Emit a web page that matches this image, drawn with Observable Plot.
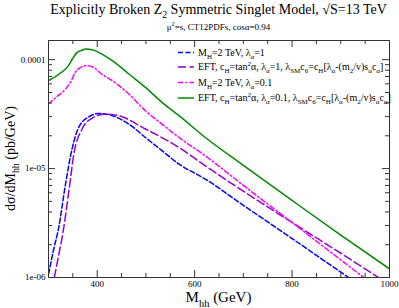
<!DOCTYPE html>
<html><head><meta charset="utf-8">
<script src="https://cdn.jsdelivr.net/npm/d3@7"></script>
<script src="https://cdn.jsdelivr.net/npm/@observablehq/plot@0.6"></script>
<style>body{margin:0;background:#fff}#c{width:399px;height:308px}</style>
</head><body><div id="c"></div>
<script>
// ---- data ----
const blueM = [300, 310, 321, 335, 349, 362, 383, 403, 424, 465, 499, 533, 568, 622, 700, 800, 900, 1000];
const blueV = [1.07e-6, 1.76e-6, 2.88e-6, 7.21e-6, 1.56e-5, 2.39e-5, 2.99e-5, 3.21e-5, 3.13e-5, 2.56e-5, 1.93e-5, 1.46e-5, 1.10e-5, 8.0e-6, 4.6e-6, 2.28e-6, 1.12e-6, 5.5e-7];
const purpleM = [312, 320, 328, 342, 352, 369, 390, 417, 444, 499, 568, 622, 700, 800, 900, 1000];
const purpleV = [1.0e-6, 1.53e-6, 2.33e-6, 6.27e-6, 1.36e-5, 2.31e-5, 2.91e-5, 3.17e-5, 3.06e-5, 2.31e-5, 1.56e-5, 1.06e-5, 6.2e-6, 3.2e-6, 1.67e-6, 8.6e-7];
const magentaM = [300, 314, 335, 345, 355, 366, 376, 390, 410, 431, 465, 499, 533, 568, 622, 700, 800, 900, 950, 1000];
const magentaV = [3.92e-5, 4.45e-5, 5.38e-5, 6.18e-5, 7.64e-5, 8.49e-5, 8.81e-5, 8.6e-5, 7.33e-5, 6.41e-5, 4.84e-5, 3.4e-5, 2.56e-5, 1.93e-5, 1.31e-5, 7.0e-6, 3.2e-6, 1.45e-6, 9.8e-7, 6.8e-7];
const greenM = [300, 321, 341, 349, 359, 367, 376, 390, 403, 431, 465, 499, 533, 568, 622, 700, 800, 900, 1000];
const greenV = [6.41e-5, 7.35e-5, 8.81e-5, 1.014e-4, 1.167e-4, 1.21e-4, 1.253e-4, 1.236e-4, 1.167e-4, 9.8e-5, 7.39e-5, 5.57e-5, 4.06e-5, 3.06e-5, 1.93e-5, 1.07e-5, 5.1e-6, 2.45e-6, 1.2e-6];

const xMajor = [400, 600, 800, 1000];
const xTickLabels = ["400", "600", "800", "1000"];
const xMinor = [350, 450, 500, 550, 650, 700, 750, 850, 900, 950];
const yMajor = [1e-6, 1e-5, 1e-4];
const yTickLabels = ["1e-06", "1e-05", "0.0001"];
const yMinor = [2e-6,3e-6,4e-6,5e-6,6e-6,7e-6,8e-6,9e-6,2e-5,3e-5,4e-5,5e-5,6e-5,7e-5,8e-5,9e-5];

const seriesNames = ["blue", "purple", "magenta", "green"];
const seriesColors = ["#0000ff", "#9400d3", "#ff00ff", "#008b00"];
const seriesDash = ["5,2.5", "8,3.5", "5,2.5,1.5,2.5", null];

// ---- build tables ----
const table = (M, V) => M.map((m, i) => ({M: m, v: V[i]}));
const series = [table(blueM, blueV), table(purpleM, purpleV), table(magentaM, magentaV), table(greenM, greenV)];

const W = 399, H = 308, mL = 48, mR = 10, mT = 40, mB = 31;
const fw = W - mL - mR, fh = H - mT - mB;
const FONT = "Liberation Serif, Times New Roman, serif";
const ink = "#333";
const yLabelMap = new Map(yMajor.map((d, i) => [d, yTickLabels[i]]));
const xLabelMap = new Map(xMajor.map((d, i) => [d, xTickLabels[i]]));

const plot = Plot.plot({
  width: W, height: H,
  marginLeft: mL, marginRight: mR, marginTop: mT, marginBottom: mB,
  style: {fontFamily: FONT, fontSize: "9px", color: "#000", background: "#fff"},
  x: {domain: [300, 1000]},
  y: {type: "log", domain: [1e-6, 1.5e-4]},
  marks: [
    ...series.map((s, i) => Plot.line(s, {x: "M", y: "v", stroke: seriesColors[i], strokeWidth: 1.5,
      strokeDasharray: seriesDash[i] ?? undefined, curve: "monotone-x", clip: true})),
    // inward ticks, bottom & top
    Plot.tickX(xMajor, {x: d => d, insetTop: fh - 7, stroke: ink}),
    Plot.tickX(xMinor, {x: d => d, insetTop: fh - 4, stroke: ink}),
    Plot.tickX(xMajor, {x: d => d, insetBottom: fh - 7, stroke: ink}),
    Plot.tickX(xMinor, {x: d => d, insetBottom: fh - 4, stroke: ink}),
    // inward ticks, left & right
    Plot.tickY(yMajor, {y: d => d, insetRight: fw - 7, stroke: ink}),
    Plot.tickY(yMinor, {y: d => d, insetRight: fw - 4, stroke: ink}),
    Plot.tickY(yMajor, {y: d => d, insetLeft: fw - 7, stroke: ink}),
    Plot.tickY(yMinor, {y: d => d, insetLeft: fw - 4, stroke: ink}),
    Plot.axisX({ticks: xMajor, tickSize: 0, tickPadding: 3, tickFormat: d => xLabelMap.get(d), label: null, fontSize: 9}),
    Plot.axisY({ticks: yMajor, tickSize: 0, tickPadding: 3, tickFormat: d => yLabelMap.get(d), label: null, fontSize: 9}),
    Plot.frame({stroke: ink, strokeWidth: 1})
  ]
});
document.getElementById("c").appendChild(plot);

// ---- rich text helpers ----
const svg = d3.select(plot);
function rich(x, y, parts, size, anchor = "middle", rotate = false) {
  const t = svg.append("text").attr("font-family", FONT).attr("font-size", size).attr("fill", "#000")
    .attr("text-anchor", anchor);
  if (rotate) t.attr("transform", `translate(${x},${y}) rotate(-90)`); else t.attr("x", x).attr("y", y);
  let cur = 0;
  for (const p of parts) {
    const [s, m] = typeof p === "string" ? [p, 0] : p;
    const off = m === 1 ? size * 0.3 : m === 2 ? -size * 0.4 : 0;
    t.append("tspan").text(s).attr("dy", off - cur).attr("font-size", m ? size * 0.7 : size);
    cur = off;
  }
  return t;
}
const cx = mL + fw / 2;
rich(cx, 13.5, ["Explicitly Broken Z", ["2", 1], " Symmetric Singlet Model, √S=13 TeV"], 14);
rich(cx, 30, ["μ", ["2", 2], "=s, CT12PDFs, cosα=0.94"], 9);
rich(cx, 302, ["M", ["hh", 1], " (GeV)"], 15);
rich(15, mT + fh / 2, ["dσ/dM", ["hh", 1], " (pb/GeV)"], 14, "middle", true);

const legendTexts = [
  ["M", ["H", 1], "=2 TeV, λ", ["α", 1], "=1"],
  ["EFT, c", ["H", 1], "=tan", ["2", 2], "α, λ", ["α", 1], "=1, λ", ["SM", 1], "c", ["6", 1], "=c", ["H", 1], "[λ", ["α", 1], "-(m", ["2", 1], "/v)s", ["α", 1], "c", ["α", 1], "]"],
  ["M", ["H", 1], "=2 TeV, λ", ["α", 1], "=0.1"],
  ["EFT, c", ["H", 1], "=tan", ["2", 2], "α, λ", ["α", 1], "=0.1, λ", ["SM", 1], "c", ["6", 1], "=c", ["H", 1], "[λ", ["α", 1], "-(m", ["2", 1], "/v)s", ["α", 1], "c", ["α", 1], "]"]
];
const legendY = [52.5, 67, 82.5, 98];
seriesNames.forEach((n, i) => {
  const y = legendY[i];
  const ln = svg.append("line").attr("x1", 178).attr("x2", 194).attr("y1", y).attr("y2", y)
    .attr("stroke", seriesColors[i]).attr("stroke-width", 1.5);
  if (seriesDash[i]) ln.attr("stroke-dasharray", seriesDash[i]);
  rich(198, y + 3.3, legendTexts[i], 10, "start");
});
</script></body></html>
